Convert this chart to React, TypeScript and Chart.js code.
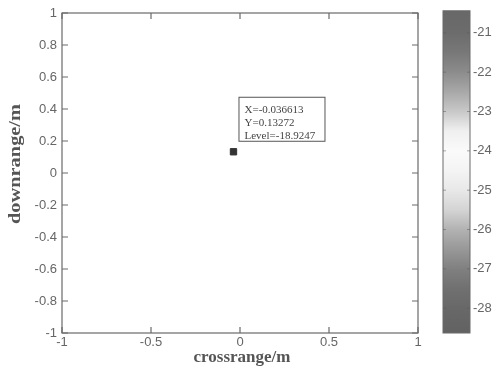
import React, { useEffect, useRef } from "react";
import { Chart, registerables } from "chart.js";

Chart.register(...registerables);

// ---- data ----
const pointX = [-0.036613];
const pointY = [0.13272];
const pointLevel = [-18.9247];
const xTickValues = [-1, -0.5, 0, 0.5, 1];
const yTickValues = [-1, -0.8, -0.6, -0.4, -0.2, 0, 0.2, 0.4, 0.6, 0.8, 1];
const cbTickValues = [-28, -27, -26, -25, -24, -23, -22, -21];
const cbRange = [-28.63, -20.44];
const cbStopValues = [-20.44, -21, -21.5, -22, -22.5, -23, -23.5, -24, -24.5, -25, -25.5, -26, -26.5, -27, -27.5, -28, -28.63];
const cbStopGrays = [104, 108, 120, 140, 168, 200, 240, 250, 244, 232, 212, 178, 152, 128, 112, 104, 98];
const xTitle = "crossrange/m";
const yTitle = "downrange/m";

const fmt = (v: number) => String(Number(v.toFixed(2)));
const AXIS_COLOR = "#6a6a6a";
const TICK_FONT = { family: "Liberation Sans, Arial, sans-serif", size: 13 };
const SERIF = "'Liberation Serif', 'Times New Roman', serif";

const framePlugin = {
  id: "frame",
  afterDraw(chart: any) {
    const { ctx, chartArea: a, scales } = chart;
    ctx.save();
    ctx.strokeStyle = AXIS_COLOR;
    ctx.lineWidth = 1.2;
    ctx.strokeRect(a.left, a.top, a.right - a.left, a.bottom - a.top);
    const L = 6;
    ctx.beginPath();
    xTickValues.forEach((v) => {
      const px = scales.x.getPixelForValue(v);
      ctx.moveTo(px, a.bottom); ctx.lineTo(px, a.bottom - L);
      ctx.moveTo(px, a.top); ctx.lineTo(px, a.top + L);
    });
    yTickValues.forEach((v) => {
      const py = scales.y.getPixelForValue(v);
      ctx.moveTo(a.left, py); ctx.lineTo(a.left + L, py);
      ctx.moveTo(a.right, py); ctx.lineTo(a.right - L, py);
    });
    ctx.stroke();
    // titles
    ctx.fillStyle = "#555";
    ctx.font = "bold 17px " + SERIF;
    ctx.textAlign = "center";
    ctx.textBaseline = "middle";
    ctx.fillText(xTitle, (a.left + a.right) / 2 + 2, 358);
    ctx.translate(16, (a.top + a.bottom) / 2 - 9);
    ctx.rotate(-Math.PI / 2);
    const w = ctx.measureText(yTitle).width;
    ctx.scale(120 / w, 1);
    ctx.fillText(yTitle, 0, 0);
    ctx.restore();
  },
};

const datatipPlugin = {
  id: "datatip",
  afterDatasetsDraw(chart: any) {
    const { ctx, scales } = chart;
    const px = scales.x.getPixelForValue(pointX[0]);
    const py = scales.y.getPixelForValue(pointY[0]);
    const left = px + 5;
    const bottom = py - 11;
    const w = 86;
    const h = 44;
    ctx.save();
    ctx.fillStyle = "#ffffff";
    ctx.fillRect(left, bottom - h, w, h);
    ctx.strokeStyle = "#555";
    ctx.lineWidth = 1;
    ctx.strokeRect(left + 0.5, bottom - h + 0.5, w, h);
    ctx.fillStyle = "#444";
    ctx.font = "11px " + SERIF;
    ctx.textAlign = "left";
    ctx.textBaseline = "middle";
    const lines = [
      "X=" + String(pointX[0]),
      "Y=" + String(pointY[0]),
      "Level=" + String(pointLevel[0]),
    ];
    lines.forEach((t, i) => ctx.fillText(t, left + 6, bottom - h + 13 + i * 13));
    ctx.restore();
  },
};

const colorbarPlugin = {
  id: "colorbar",
  beforeDatasetsDraw(chart: any) {
    const { ctx, chartArea: a, scales } = chart;
    const y = scales.y;
    const top = y.getPixelForValue(cbRange[1]);
    const bot = y.getPixelForValue(cbRange[0]);
    const g = ctx.createLinearGradient(0, top, 0, bot);
    cbStopValues.forEach((v, i) => {
      const off = Math.min(1, Math.max(0, (y.getPixelForValue(v) - top) / (bot - top)));
      const c = cbStopGrays[i];
      g.addColorStop(off, `rgb(${c},${c},${c})`);
    });
    ctx.save();
    ctx.fillStyle = g;
    ctx.fillRect(a.left, top, a.right - a.left, bot - top);
    ctx.strokeStyle = AXIS_COLOR;
    ctx.lineWidth = 1;
    ctx.strokeRect(a.left, top, a.right - a.left, bot - top);
    ctx.beginPath();
    cbTickValues.forEach((v) => {
      const p = y.getPixelForValue(v);
      ctx.moveTo(a.left, p); ctx.lineTo(a.left + 3, p);
      ctx.moveTo(a.right, p); ctx.lineTo(a.right - 3, p);
    });
    ctx.strokeStyle = "rgba(90,90,90,0.5)";
    ctx.stroke();
    ctx.restore();
  },
};

export default function App() {
  const mainRef = useRef<HTMLCanvasElement>(null);
  const cbRef = useRef<HTMLCanvasElement>(null);

  useEffect(() => {
    const main = new Chart(mainRef.current!, {
      type: "scatter",
      data: {
        datasets: [
          {
            data: pointX.map((x, i) => ({ x, y: pointY[i] })),
            pointStyle: "rect",
            pointRadius: 4.5,
            backgroundColor: "#333",
            borderColor: "#333",
          },
        ],
      },
      options: {
        responsive: false,
        animation: false,
        layout: { padding: { top: 13, right: 12, left: 0, bottom: 0 } },
        plugins: { legend: { display: false }, tooltip: { enabled: false } },
        scales: {
          x: {
            type: "linear",
            min: -1,
            max: 1,
            grid: { display: false, drawTicks: false },
            border: { display: false },
            afterBuildTicks: (s: any) => { s.ticks = xTickValues.map((value) => ({ value })); },
            afterFit: (s: any) => { s.height = 43; },
            ticks: { color: "#666", font: TICK_FONT, padding: 2, maxRotation: 0, callback: (v: any) => fmt(Number(v)) },
          },
          y: {
            type: "linear",
            min: -1,
            max: 1,
            grid: { display: false, drawTicks: false },
            border: { display: false },
            afterBuildTicks: (s: any) => { s.ticks = yTickValues.map((value) => ({ value })); },
            afterFit: (s: any) => { s.width = 62; },
            ticks: { color: "#666", font: TICK_FONT, padding: 5, callback: (v: any) => fmt(Number(v)) },
          },
        },
      },
      plugins: [framePlugin, datatipPlugin],
    });

    const cb = new Chart(cbRef.current!, {
      type: "scatter",
      data: { datasets: [{ data: [] }] },
      options: {
        responsive: false,
        animation: false,
        layout: { padding: { top: 10, left: 13, bottom: 43, right: 0 } },
        plugins: { legend: { display: false }, tooltip: { enabled: false } },
        scales: {
          x: { display: false, min: 0, max: 1 },
          y: {
            type: "linear",
            position: "right",
            min: cbRange[0],
            max: cbRange[1],
            grid: { display: false, drawTicks: false },
            border: { display: false },
            afterBuildTicks: (s: any) => { s.ticks = cbTickValues.map((value) => ({ value })); },
            afterFit: (s: any) => { s.width = 28; },
            ticks: { color: "#666", font: TICK_FONT, padding: 3, callback: (v: any) => fmt(Number(v)) },
          },
        },
      },
      plugins: [colorbarPlugin],
    });

    return () => {
      main.destroy();
      cb.destroy();
    };
  }, []);

  return (
    <div style={{ position: "fixed", left: 0, top: 0, width: 498, height: 376, background: "#fff" }}>
      <canvas ref={mainRef} width={430} height={376} style={{ position: "absolute", left: 0, top: 0, width: 430, height: 376 }} />
      <canvas ref={cbRef} width={68} height={376} style={{ position: "absolute", left: 430, top: 0, width: 68, height: 376 }} />
    </div>
  );
}
